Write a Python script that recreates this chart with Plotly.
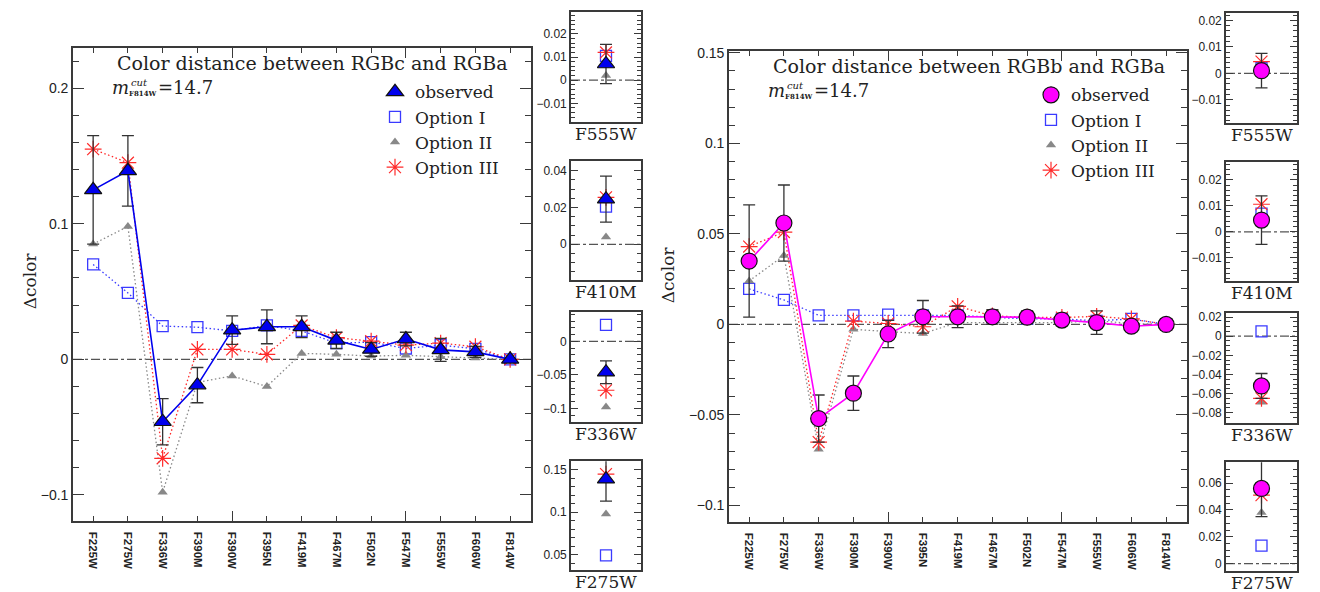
import plotly.graph_objects as go

# ---------------- data ----------------
filters = ["F225W", "F275W", "F336W", "F390M", "F390W", "F395N", "F419M",
           "F467M", "F502N", "F547M", "F555W", "F606W", "F814W"]
inset_filters = ["F555W", "F410M", "F336W", "F275W"]

# Left panel: RGBc - RGBa
c_obs = [0.125, 0.139, -0.046, -0.019, 0.0215, 0.024, 0.024, 0.014, 0.0073, 0.015, 0.007, 0.0055, 0.0]
c_err = [0.040, 0.026, 0.017, 0.013, 0.0105, 0.0125, 0.008, 0.006, 0.005, 0.005, 0.0085, 0.004, 0.0]
c_opt1 = [0.070, 0.049, 0.0245, 0.0237, 0.021, 0.025, 0.021, 0.012, 0.0127, 0.008, 0.0105, 0.0078, 0.0]
c_opt2 = [0.085, 0.098, -0.098, -0.017, -0.0122, -0.020, 0.0044, 0.0037, 0.0024, 0.003, 0.002, 0.001, 0.0]
c_opt3 = [0.155, 0.145, -0.073, 0.0073, 0.0073, 0.0037, 0.025, 0.016, 0.0134, 0.0105, 0.012, 0.0093, 0.0]
c_f410m_obs, c_f410m_err = 0.0245, 0.0125
c_f410m_opt1, c_f410m_opt2, c_f410m_opt3 = 0.0205, 0.004, 0.0255

# Right panel: RGBb - RGBa
b_obs = [0.035, 0.056, -0.052, -0.038, -0.0053, 0.0042, 0.0042, 0.0042, 0.004, 0.0024, 0.001, -0.001, 0.0]
b_err = [0.031, 0.021, 0.013, 0.0095, 0.0075, 0.009, 0.006, 0.004, 0.0035, 0.003, 0.0065, 0.003, 0.0]
b_opt1 = [0.0196, 0.0135, 0.005, 0.005, 0.0054, 0.005, 0.005, 0.004, 0.003, 0.003, 0.002, 0.003, 0.0]
b_opt2 = [0.024, 0.038, -0.069, -0.0027, -0.004, -0.005, 0.001, 0.001, 0.001, 0.001, 0.002, 0.0005, 0.0]
b_opt3 = [0.043, 0.051, -0.065, 0.0018, 0.0005, -0.0013, 0.010, 0.0047, 0.004, 0.0038, 0.0044, 0.003, 0.0]
b_f410m_obs, b_f410m_err = 0.0045, 0.0093
b_f410m_opt1, b_f410m_opt2, b_f410m_opt3 = 0.007, 0.005, 0.0106

# axis ranges
c_main_range = [-0.119, 0.2294]
b_main_range = [-0.109, 0.151]
c_inset_ranges = [[-0.018, 0.0295], [-0.0195, 0.045], [-0.12, 0.044], [0.0315, 0.16]]
c_inset_dticks = [0.01, 0.02, 0.05, 0.05]
c_inset_minor = [0.002, 0.005, 0.01, 0.01]
b_inset_ranges = [[-0.0187, 0.0228], [-0.019, 0.0267], [-0.0905, 0.0244], [-0.0056, 0.0754]]
b_inset_dticks = [0.01, 0.01, 0.02, 0.02]
b_inset_minor = [0.002, 0.002, 0.005, 0.005]

# ---------------- style ----------------
W, H = 1320, 592
AX = "#3a3a3a"
BLUE_OBS = "#0000ee"
BLUE = "#3a3aff"
GRAY = "#888888"
RED = "#ff2a2a"
MAG = "#ff00ff"
SERIF = "DejaVu Serif"
SANS = "Liberation Sans"
DOTS = "1.5px,2.5px"


def px(x):
    return x / W


def py(y):
    return 1 - y / H


def pick(series, f410, f):
    return series[filters.index(f)] if f in filters else f410


fig = go.Figure()

panels = [
    dict(obs=c_obs, err=c_err, o1=c_opt1, o2=c_opt2, o3=c_opt3,
         f410=(c_f410m_obs, c_f410m_err, c_f410m_opt1, c_f410m_opt2, c_f410m_opt3),
         sym="triangle-up", col=BLUE_OBS, size=15, xs="x", ys="y", ins=[3, 4, 5, 6],
         legend="legend"),
    dict(obs=b_obs, err=b_err, o1=b_opt1, o2=b_opt2, o3=b_opt3,
         f410=(b_f410m_obs, b_f410m_err, b_f410m_opt1, b_f410m_opt2, b_f410m_opt3),
         sym="circle", col=MAG, size=16, xs="x2", ys="y2", ins=[7, 8, 9, 10],
         legend="legend2"),
]

opt_styles = [
    ("Option I", BLUE, dict(symbol="square-open", size=11, color=BLUE, line=dict(width=1.3, color=BLUE))),
    ("Option II", GRAY, dict(symbol="triangle-up", size=9, color=GRAY, line=dict(width=0))),
    ("Option III", RED, dict(symbol="asterisk-open", size=14, color=RED, line=dict(width=1.2, color=RED))),
]

for p in panels:
    opts = [p["o1"], p["o2"], p["o3"]]
    obs_marker = dict(symbol=p["sym"], size=p["size"], color=p["col"], line=dict(width=1.2, color="#111"))
    err_style = dict(type="data", color="#333", thickness=1.3, width=6)
    # main panel option curves
    for (name, col, mk), vals in zip(opt_styles, opts):
        fig.add_trace(go.Scatter(x=filters, y=vals, mode="lines+markers",
                                 line=dict(color=col, dash=DOTS, width=1.3),
                                 marker=mk, showlegend=False, hoverinfo="skip",
                                 xaxis=p["xs"], yaxis=p["ys"]))
    fig.add_trace(go.Scatter(x=filters, y=p["obs"], mode="lines+markers",
                             line=dict(color=p["col"], width=1.6),
                             marker=obs_marker,
                             error_y=dict(array=p["err"], **err_style),
                             showlegend=False, xaxis=p["xs"], yaxis=p["ys"]))
    # legend entries
    fig.add_trace(go.Scatter(x=[None], y=[None], mode="markers", name="observed",
                             marker=obs_marker, legend=p["legend"],
                             xaxis=p["xs"], yaxis=p["ys"]))
    for (name, col, mk) in opt_styles:
        fig.add_trace(go.Scatter(x=[None], y=[None], mode="markers", name=name,
                                 marker=mk, legend=p["legend"],
                                 xaxis=p["xs"], yaxis=p["ys"]))
    # insets
    f410 = p["f410"]
    for k, f in enumerate(inset_filters):
        n = p["ins"][k]
        xa, ya = f"x{n}", f"y{n}"
        for (name, col, mk), vals, fv in zip(opt_styles, opts, f410[2:]):
            fig.add_trace(go.Scatter(x=[f], y=[pick(vals, fv, f)], mode="markers",
                                     marker=mk, showlegend=False, xaxis=xa, yaxis=ya))
        fig.add_trace(go.Scatter(x=[f], y=[pick(p["obs"], f410[0], f)], mode="markers",
                                 marker=obs_marker,
                                 error_y=dict(array=[pick(p["err"], f410[1], f)], **err_style),
                                 showlegend=False, xaxis=xa, yaxis=ya))

# dummy traces for the long-tick overlay axes
fig.add_trace(go.Scatter(x=[None], y=[None], xaxis="x11", yaxis="y", showlegend=False))
fig.add_trace(go.Scatter(x=[None], y=[None], xaxis="x12", yaxis="y2", showlegend=False))


# ---------------- axes ----------------
def yaxis(domain, rng, dtick, minor, anchor, size, tl=10, ml=5):
    return dict(domain=domain, range=rng, dtick=dtick, tick0=0, anchor=anchor,
                ticks="inside", ticklen=tl, tickwidth=1.2, tickcolor=AX,
                showline=True, linecolor=AX, linewidth=1.6, mirror="ticks",
                showgrid=False, zeroline=False,
                tickfont=dict(family=SANS, size=size, color="#222"),
                minor=dict(dtick=minor, tick0=0, ticks="inside", ticklen=ml,
                           tickwidth=1, tickcolor=AX, showgrid=False))


def xmain(domain, anchor):
    return dict(domain=domain, anchor=anchor, type="category", range=[-0.58, 12.6],
                ticks="inside", ticklen=5, tickwidth=1.2, tickcolor=AX,
                showline=True, linecolor=AX, linewidth=1.6, mirror="ticks",
                showgrid=False, zeroline=False, tickangle=90,
                ticklabelstandoff=7,
                tickfont=dict(family=SANS, size=11.5, color="#222", weight="bold"))


def xlong(over, anchor):
    return dict(overlaying=over, anchor=anchor, range=[-0.58, 12.6], tickvals=[4, 9],
                ticks="inside", ticklen=10, tickwidth=1.2, tickcolor=AX,
                showticklabels=False, showline=False, mirror="ticks",
                showgrid=False, zeroline=False)


def xinset(domain, anchor):
    return dict(domain=domain, anchor=anchor, type="category", range=[-1, 1],
                showticklabels=False, ticks="", showline=True, linecolor=AX,
                linewidth=1.6, mirror=True, showgrid=False, zeroline=False)


layout = dict(
    width=W, height=H, margin=dict(l=0, r=0, t=0, b=0),
    paper_bgcolor="white", plot_bgcolor="white",
    xaxis=xmain([px(73), px(531)], "y"),
    yaxis=yaxis([py(520), py(42.7)], c_main_range, 0.1, 0.02, "x", 14, 11, 6),
    xaxis2=xmain([px(729), px(1187)], "y2"),
    yaxis2=yaxis([py(521), py(45.5)], b_main_range, 0.05, 0.01, "x2", 14, 11, 6),
    xaxis11=xlong("x", "y"),
    xaxis12=xlong("x2", "y2"),
)

inset_y = [(6, 117), (157, 277), (309, 420), (460, 570)]
left_ix = (571, 641)
right_ix = (1226, 1297)
for k in range(4):
    t, b = inset_y[k]
    n = 3 + k
    layout[f"xaxis{n}"] = xinset([px(left_ix[0]), px(left_ix[1])], f"y{n}")
    layout[f"yaxis{n}"] = yaxis([py(b), py(t)], c_inset_ranges[k], c_inset_dticks[k],
                                c_inset_minor[k], f"x{n}", 12, 7, 4)
    n = 7 + k
    layout[f"xaxis{n}"] = xinset([px(right_ix[0]), px(right_ix[1])], f"y{n}")
    layout[f"yaxis{n}"] = yaxis([py(b + 1), py(t + 1)], b_inset_ranges[k], b_inset_dticks[k],
                                b_inset_minor[k], f"x{n}", 12, 7, 4)

leg_common = dict(xanchor="left", yanchor="top", bgcolor="rgba(0,0,0,0)",
                  font=dict(family=SERIF, size=17, color="#222"), itemwidth=30,
                  tracegroupgap=0)
layout["legend"] = dict(x=px(375), y=py(69), **leg_common)
layout["legend2"] = dict(x=px(1031), y=py(72), **leg_common)
fig.update_layout(**layout)

# zero lines
for xa, ya in [("x", "y"), ("x2", "y2")] + [(f"x{n}", f"y{n}") for n in range(3, 11)]:
    fig.add_shape(type="line", xref=f"{xa} domain", yref=ya, x0=0, x1=1, y0=0, y1=0,
                  line=dict(color="#555", width=1.3, dash="dashdot"), layer="below")


# ---------------- text ----------------
def ann(x, y, text, size=17, xanchor="left", family=SERIF, angle=0, yanchor="middle"):
    fig.add_annotation(x=px(x), y=py(y), xref="paper", yref="paper", text=text,
                       showarrow=False, xanchor=xanchor, yanchor=yanchor, textangle=angle,
                       borderpad=0,
                       font=dict(family=family, size=size, color="#222"))


for dx, dy, pair in [(0, 0, "RGBc"), (656, 3, "RGBb")]:
    ann(116 + dx, 57.5 + dy, f"Color distance between {pair} and RGBa", size=19)
    ann(130 + dx, 82.5 + dy, "<i>m</i>", size=18, xanchor="right")
    ann(130 + dx, 77 + dy, "<i>cut</i>", size=10)
    ann(128 + dx, 88 + dy, "<b>F814W</b>", size=7)
    ann(157 + dx, 82.5 + dy, "=14.7", size=18)

ann(30, 278, "Δcolor", angle=-90, xanchor="center")
ann(668, 272, "Δcolor", angle=-90, xanchor="center")

for k, f in enumerate(inset_filters):
    t, b = inset_y[k]
    ann((left_ix[0] + left_ix[1]) / 2, b + 12, f, xanchor="center")
    ann((right_ix[0] + right_ix[1]) / 2, b + 13, f, xanchor="center")

fig.write_html("out.html", config={"displayModeBar": False},
               post_script="document.body.style.margin='0px';")
